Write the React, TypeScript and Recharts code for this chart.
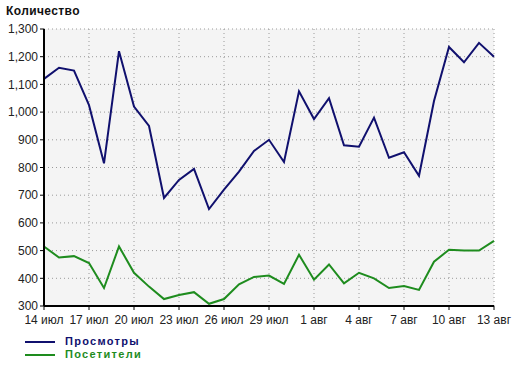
import React from 'react';
import { LineChart, Line, XAxis, YAxis, CartesianGrid } from 'recharts';

const dates = [
  '14 июл', '15 июл', '16 июл', '17 июл', '18 июл', '19 июл', '20 июл', '21 июл',
  '22 июл', '23 июл', '24 июл', '25 июл', '26 июл', '27 июл', '28 июл', '29 июл',
  '30 июл', '31 июл', '1 авг', '2 авг', '3 авг', '4 авг', '5 авг', '6 авг',
  '7 авг', '8 авг', '9 авг', '10 авг', '11 авг', '12 авг', '13 авг',
];

const views = [
  1120, 1160, 1150, 1025, 815, 1220, 1020, 950, 690, 755, 795,
  650, 720, 785, 860, 900, 820, 1075, 975, 1050, 880, 875,
  980, 835, 855, 770, 1040, 1235, 1180, 1250, 1200,
];

const visitors = [
  515, 475, 480, 455, 365, 515, 420, 370, 325, 340, 350,
  308, 325, 378, 405, 410, 380, 485, 395, 450, 382, 420,
  400, 365, 372, 358, 460, 503, 500, 500, 535,
];

const xTicks = [0, 3, 6, 9, 12, 15, 18, 21, 24, 27, 30];
const yTicks = [300, 400, 500, 600, 700, 800, 900, 1000, 1100, 1200, 1300];

const BLUE = '#10106e';
const GREEN = '#1e8c1e';
const FONT = '"Liberation Sans", Arial, sans-serif';

const chartData = dates.map((d, i) => ({
  i,
  date: d,
  views: views[i],
  visitors: visitors[i],
}));

const legendItems = [
  { name: 'Просмотры', color: BLUE },
  { name: 'Посетители', color: GREEN },
];

const App: React.FC = () => {
  return (
    <div style={{ position: 'absolute', left: 0, top: 0, width: 520, height: 366, background: '#fff' }}>
      <div
        style={{
          position: 'absolute', left: 6, top: 4, fontFamily: FONT, fontSize: 12,
          fontWeight: 'bold', color: '#111', letterSpacing: 0.4,
        }}
      >
        Количество
      </div>
      <LineChart
        width={520}
        height={366}
        data={chartData}
        margin={{ top: 29, right: 26, left: 0, bottom: 30 }}
      >
        <CartesianGrid stroke="#9a9a9a" strokeDasharray="1 3" fill="#f4f4f4" />
        <XAxis
          dataKey="i"
          type="number"
          domain={[0, 30]}
          ticks={xTicks}
          interval={0}
          tickFormatter={(v: number) => dates[v]}
          axisLine={{ stroke: '#000', strokeWidth: 2 }}
          tickLine={{ stroke: '#000' }}
          tickSize={4}
          tickMargin={5}
          height={30}
          tick={{ fill: '#222', fontSize: 12, fontFamily: FONT }}
        />
        <YAxis
          domain={[300, 1300]}
          ticks={yTicks}
          interval={0}
          width={44}
          tickFormatter={(v: number) => v.toLocaleString('en-US')}
          axisLine={{ stroke: '#000', strokeWidth: 2 }}
          tickLine={{ stroke: '#000' }}
          tickSize={4}
          tickMargin={2}
          tick={{ fill: '#222', fontSize: 12, fontFamily: FONT }}
        />
        <Line
          type="linear"
          dataKey="views"
          stroke={BLUE}
          strokeWidth={2}
          dot={false}
          isAnimationActive={false}
        />
        <Line
          type="linear"
          dataKey="visitors"
          stroke={GREEN}
          strokeWidth={2}
          dot={false}
          isAnimationActive={false}
        />
      </LineChart>
      <div style={{ position: 'absolute', left: 25, top: 335, fontFamily: FONT, fontSize: 11, fontWeight: 'bold' }}>
        {legendItems.map(item => (
          <div key={item.name} style={{ display: 'flex', alignItems: 'center', height: 13 }}>
            <span style={{ display: 'inline-block', width: 30, height: 2, background: item.color, marginRight: 10 }} />
            <span style={{ display: 'inline-block', lineHeight: '13px', height: 13, color: item.color, letterSpacing: 1.3 }}>
              {item.name}
            </span>
          </div>
        ))}
      </div>
    </div>
  );
};

export default App;
